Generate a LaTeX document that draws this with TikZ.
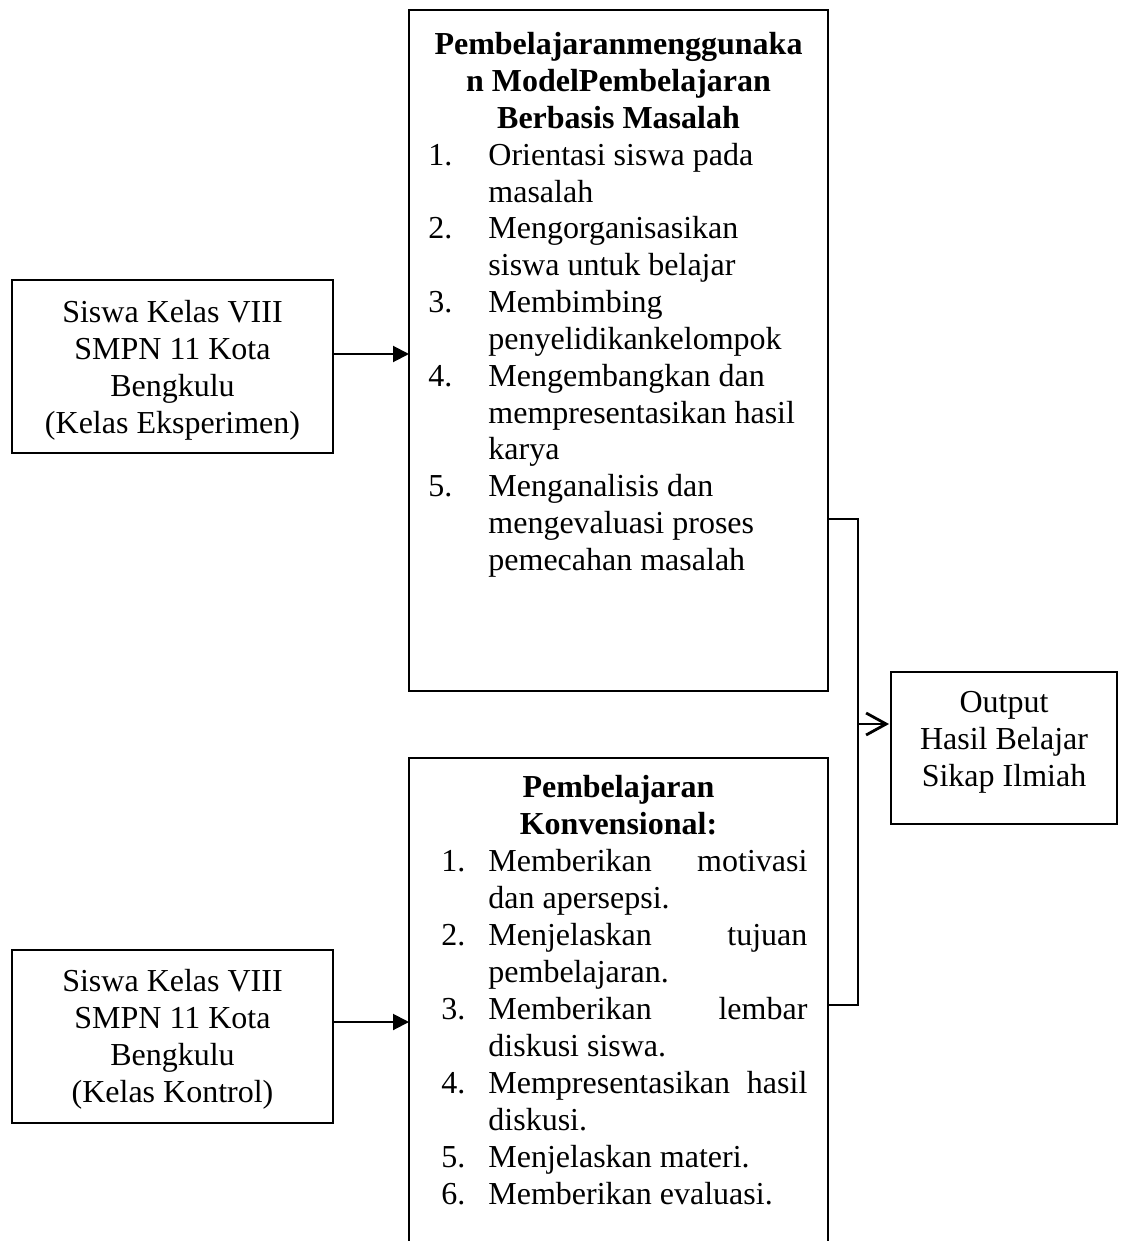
\documentclass[tikz,border=0pt]{standalone}
\usepackage{fontspec}
\setmainfont{Liberation Serif}
\usetikzlibrary{arrows.meta}
\begin{document}
\begin{tikzpicture}[x=0.5pt,y=-0.5pt,
  box/.style={draw, line width=1pt, inner sep=0pt, outer sep=0pt, anchor=north west},
  txt/.style={inner sep=0pt, font=\fontsize{16}{18.5}\selectfont},
  btxt/.style={inner sep=0pt, font=\fontsize{16}{18.5}\selectfont\bfseries},
  conn/.style={line width=1pt},
  tri/.style={-{Triangle[length=8pt,width=8pt]}},
  barb/.style={-{Straight Barb[length=10pt,width=11pt,line width=1.4pt]}}
]
\useasboundingbox (0,0) rectangle (1125,1241);

% boxes
\node[box, minimum width=160.5pt, minimum height=86.5pt] (exp) at (12,280) {};
\node[box, minimum width=160.5pt, minimum height=86.5pt] (kon) at (12,950) {};
\node[box, minimum width=209.5pt, minimum height=340.5pt] (pbm) at (409,10) {};
\node[box, draw=none, minimum width=209.5pt, minimum height=245pt] (konv) at (409,758) {};
\draw[conn] (konv.south west) -- (konv.north west) -- (konv.north east) -- (konv.south east);
\node[box, minimum width=113pt, minimum height=76pt] (out) at (891,672) {};

% connectors
\coordinate (a1) at (333,354);
\coordinate (a2) at (333,1022);
\coordinate (j1) at (858,519);
\coordinate (j2) at (858,1005);
\coordinate (j3) at (858,724);
\draw[conn, tri] (exp.east |- a1) -- (pbm.west |- a1);
\draw[conn, tri] (kon.east |- a2) -- (konv.west |- a2);
\draw[conn] (pbm.east |- j1) -- (j1) -- (j2) -- (konv.east |- j2);
\draw[conn, barb] (j3) -- ([xshift=-1pt]out.west |- j3);

% left box texts
\foreach \t [count=\i] in {Siswa Kelas VIII, SMPN 11 Kota, Bengkulu, (Kelas Eksperimen)}
  \node[txt, anchor=base] (e\i) at (172.5, 285+37*\i) {\t};
\foreach \t [count=\i] in {Siswa Kelas VIII, SMPN 11 Kota, Bengkulu, (Kelas Kontrol)}
  \node[txt, anchor=base] (k\i) at (172.5, 954+37*\i) {\t};

% output texts
\foreach \t [count=\i] in {Output, Hasil Belajar, Sikap Ilmiah}
  \node[txt, anchor=base] (o\i) at (1004, 675+37*\i) {\t};

% top middle box
\node[btxt, anchor=base] (p1) at (618.5,55) {Pembelajaranmenggunaka};
\node[btxt, anchor=base] (p2) at (618.5,91.8) {n ModelPembelajaran};
\node[btxt, anchor=base] (p3) at (618.5,128.6) {Berbasis Masalah};
\node[txt, anchor=base west] (pn1) at (428,165.4) {1.};
\node[txt, anchor=base west] (pl1) at (488,165.4) {Orientasi siswa pada};
\node[txt, anchor=base west] (pl2) at (488,202.2) {masalah};
\node[txt, anchor=base west] (pn2) at (428,239) {2.};
\node[txt, anchor=base west] (pl3) at (488,239) {Mengorganisasikan};
\node[txt, anchor=base west] (pl4) at (488,275.8) {siswa untuk belajar};
\node[txt, anchor=base west] (pn3) at (428,312.6) {3.};
\node[txt, anchor=base west] (pl5) at (488,312.6) {Membimbing};
\node[txt, anchor=base west] (pl6) at (488,349.4) {penyelidikankelompok};
\node[txt, anchor=base west] (pn4) at (428,386.2) {4.};
\node[txt, anchor=base west] (pl7) at (488,386.2) {Mengembangkan dan};
\node[txt, anchor=base west] (pl8) at (488,423) {mempresentasikan hasil};
\node[txt, anchor=base west] (pl9) at (488,459.8) {karya};
\node[txt, anchor=base west] (pn5) at (428,496.6) {5.};
\node[txt, anchor=base west] (pl10) at (488,496.6) {Menganalisis dan};
\node[txt, anchor=base west] (pl11) at (488,533.4) {mengevaluasi proses};
\node[txt, anchor=base west] (pl12) at (488,570.2) {pemecahan masalah};

% bottom middle box
\node[btxt, anchor=base] (c1) at (618.5,797) {Pembelajaran};
\node[btxt, anchor=base] (c2) at (618.5,834) {Konvensional:};
\node[txt, anchor=base west] (cn1) at (441,871) {1.};
\node[txt, anchor=base west] (cl1) at (488,871) {\hbox to 159.5pt{Memberikan\hfill motivasi}};
\node[txt, anchor=base west] (cl2) at (488,908) {dan apersepsi.};
\node[txt, anchor=base west] (cn2) at (441,945) {2.};
\node[txt, anchor=base west] (cl3) at (488,945) {\hbox to 159.5pt{Menjelaskan\hfill tujuan}};
\node[txt, anchor=base west] (cl4) at (488,982) {pembelajaran.};
\node[txt, anchor=base west] (cn3) at (441,1019) {3.};
\node[txt, anchor=base west] (cl5) at (488,1019) {\hbox to 159.5pt{Memberikan\hfill lembar}};
\node[txt, anchor=base west] (cl6) at (488,1056) {diskusi siswa.};
\node[txt, anchor=base west] (cn4) at (441,1093) {4.};
\node[txt, anchor=base west] (cl7) at (488,1093) {\hbox to 159.5pt{Mempresentasikan\hfill hasil}};
\node[txt, anchor=base west] (cl8) at (488,1130) {diskusi.};
\node[txt, anchor=base west] (cn5) at (441,1167) {5.};
\node[txt, anchor=base west] (cl9) at (488,1167) {Menjelaskan materi.};
\node[txt, anchor=base west] (cn6) at (441,1204) {6.};
\node[txt, anchor=base west] (cl10) at (488,1204) {Memberikan evaluasi.};
\end{tikzpicture}
\end{document}
